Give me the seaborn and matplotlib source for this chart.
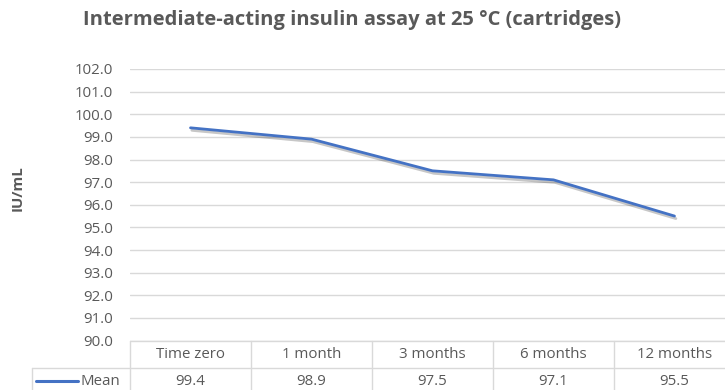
import matplotlib
matplotlib.use("Agg")
import matplotlib.pyplot as plt
import matplotlib.transforms as mtransforms
import matplotlib.patheffects as pe
import seaborn as sns
import pandas as pd

categories = ["Time zero", "1 month", "3 months", "6 months", "12 months"]
mean_values = [99.4, 98.9, 97.5, 97.1, 95.5]
yticks = [90, 91, 92, 93, 94, 95, 96, 97, 98, 99, 100, 101, 102]
series_name = "Mean"
title = "Intermediate-acting insulin assay at 25 \u00b0C (cartridges)"
ylabel = "IU/mL"

sns.set_theme(style="white")
plt.rcParams["font.family"] = ["Open Sans", "DejaVu Sans"]

TXT = "#595959"
GRID = "#D9D9D9"
LINE = "#4472C4"
FS = 10.8

df = pd.DataFrame({"cat": categories, "val": mean_values})
df["pos"] = range(len(categories))

fig = plt.figure(figsize=(7.25, 3.9), dpi=100)
W, H = 725, 390
left, right, top, bottom = 130, 735, 69, 340.5
ax = fig.add_axes([left / W, 1 - bottom / H, (right - left) / W, (bottom - top) / H])

sns.lineplot(data=df, x="pos", y="val", ax=ax, color=LINE, linewidth=2.0,
             path_effects=[pe.SimpleLineShadow(offset=(1.0, -1.8), shadow_color="black", alpha=0.22),
                           pe.Normal()])

ax.set_xlim(-0.5, len(categories) - 0.5)
ax.set_ylim(yticks[0], yticks[-1])
ax.set_yticks(yticks)
ax.set_yticklabels([f"{v:.1f}" for v in yticks], color=TXT, fontsize=FS)
ax.tick_params(axis="y", length=0, pad=12)
ax.set_xticks([])
ax.set_xlabel("")
ax.set_ylabel("")
for s in ax.spines.values():
    s.set_visible(False)
for v in yticks:
    ax.axhline(v, color=GRID, linewidth=1, zorder=0)

# data table
ax_h = bottom - top
r1 = 27.2 / ax_h
trans = mtransforms.blended_transform_factory(ax.transData, ax.transAxes)
lw = 1
ax.plot([-0.5, len(categories) - 0.5], [0, 0], transform=trans, color=GRID, lw=lw, clip_on=False)
ax.plot([(32 - left) / (right - left), 1], [-r1, -r1], transform=ax.transAxes, color=GRID, lw=lw, clip_on=False)
for i in range(len(categories) + 1):
    ax.plot([i - 0.5, i - 0.5], [0, -0.5], transform=trans, color=GRID, lw=lw, clip_on=False)
xl = (32 - left) / (right - left)
ax.plot([xl, xl], [-r1, -0.5], transform=ax.transAxes, color=GRID, lw=lw, clip_on=False)

for i, (c, v) in enumerate(zip(categories, mean_values)):
    ax.text(i, -r1 / 2, c, transform=trans, ha="center", va="center", color=TXT, fontsize=FS)
    ax.text(i, -r1 - 13.5 / ax_h, f"{v:.1f}", transform=trans, ha="center", va="center", color=TXT, fontsize=FS)

ly = -r1 - 13.5 / ax_h
ax.plot([(36 - left) / (right - left), (78 - left) / (right - left)], [ly, ly], transform=ax.transAxes,
        color=LINE, lw=2.2, clip_on=False)
ax.text((81 - left) / (right - left), ly, series_name, transform=ax.transAxes, ha="left", va="center",
        color=TXT, fontsize=FS)

fig.text(352 / W, 1 - 20 / H, title, ha="center", va="center", color=TXT, fontsize=14.5, fontweight="bold")
fig.text(18 / W, 1 - 188 / H, ylabel, ha="center", va="center", color=TXT, fontsize=FS,
         fontweight="bold", rotation=90)

fig.savefig("out.png", dpi=100)
